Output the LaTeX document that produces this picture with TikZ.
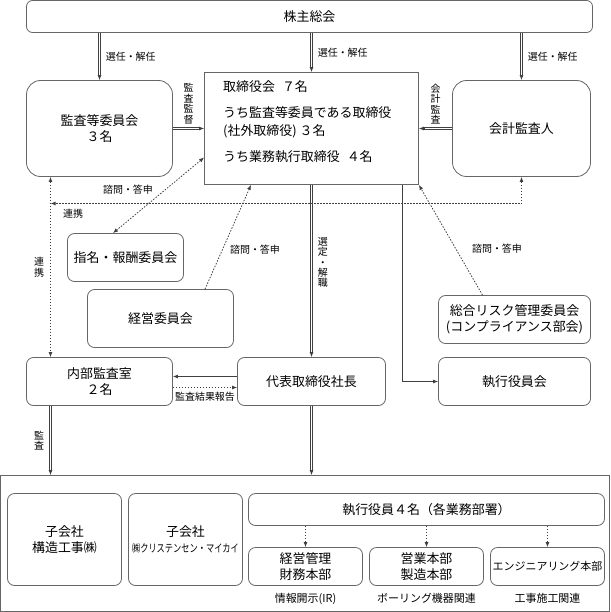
\documentclass[tikz,border=0pt]{standalone}
\usepackage{fontspec}
\setmainfont{Noto Sans CJK JP}
\usepackage{graphicx}
\usepackage{tikz}
\usetikzlibrary{arrows.meta,positioning}

\tikzset{
  >={Latex[length=5bp,width=4bp]},
  box/.style={draw=black!60, line width=0.8bp, rounded corners=7bp, align=center, inner sep=0pt, font=\fontsize{13}{16.5}\selectfont},
  bigbox/.style={box, rounded corners=14bp},
  lbl/.style={inner sep=1bp, font=\fontsize{10}{11}\selectfont},
  vlbl/.style={lbl, align=center, font=\fontsize{10}{10.5}\selectfont},
  sublbl/.style={inner sep=1bp, font=\fontsize{11}{12}\selectfont},
  con/.style={draw=black!75, line width=0.8bp, ->},
  dline/.style={draw=black!75, line width=0.7bp, double, double distance=1.3bp, shorten >=4bp},
  dotcon/.style={con, dash pattern=on 1.5bp off 1.5bp},
}

\begin{document}
\begin{tikzpicture}[x=1bp, y=-1bp]
\useasboundingbox (0,0) rectangle (611,612);

\node[box, rounded corners=6bp, minimum width=566bp, minimum height=32bp] (gm) at (309.5,16.5) {株主総会};
\node[bigbox, minimum width=146bp, minimum height=96bp] (acc) at (99.5,128.5) {監査等委員会\\３名};
\node[box, sharp corners, minimum width=214bp, minimum height=112bp] (board) at (311.5,128.5) {};
\node[align=left, anchor=west, inner sep=0pt, font=\fontsize{13}{18}\selectfont] (boardtxt) at (223,122)
  {取締役会\hspace{7bp}７名\\[8pt]うち監査等委員である取締役\\(社外取締役) ３名\\[8pt]うち業務執行取締役\hspace{7bp}４名};
\node[bigbox, minimum width=138bp, minimum height=96bp] (auditor) at (521.5,128.5) {会計監査人};
\node[box, minimum width=116bp, minimum height=48bp] (nom) at (125.5,257.5) {指名・報酬委員会};
\node[box, minimum width=146bp, minimum height=58bp] (mgmt) at (160.5,318.5) {経営委員会};
\node[box, minimum width=152bp, minimum height=48bp] (risk) at (514.5,319.5) {総合リスク管理委員会\\(コンプライアンス部会)};
\node[box, minimum width=146bp, minimum height=48bp] (audit) at (99.5,381.5) {内部監査室\\２名};
\node[box, minimum width=148bp, minimum height=48bp] (ceo) at (311.5,381.5) {代表取締役社長};
\node[box, minimum width=152bp, minimum height=48bp] (exec) at (514.5,381.5) {執行役員会};

% group companies and divisions
\node[draw=black!60, line width=0.8bp, inner sep=0pt, minimum width=609bp, minimum height=136bp] (group) at (305,543.5) {};
\node[box, minimum width=114bp, minimum height=92bp] (sub1) at (64.5,539.5) {子会社\\構造工事㈱};
\node[box, minimum width=114bp, minimum height=92bp] (sub2) at (185.5,539.5)
  {子会社\\{\fontsize{11}{16.5}\selectfont\scalebox{0.75}[1]{㈱クリステンセン・マイカイ}}};
\node[box, minimum width=356bp, minimum height=32bp] (officers) at (426.5,509.5) {執行役員４名（各業務部署）};
\node[box, minimum width=114bp, minimum height=38bp] (div1) at (305.5,566.5) {経営管理\\財務本部};
\node[box, minimum width=114bp, minimum height=38bp] (div2) at (426.5,566.5) {営業本部\\製造本部};
\node[box, minimum width=114bp, minimum height=38bp, font=\fontsize{11}{14}\selectfont] (div3) at (547.5,566.5) {エンジニアリング本部};
\node[sublbl, below=6bp of div1] (ir) {情報開示(IR)};
\node[sublbl, below=6bp of div2] (boring) {ボーリング機器関連};
\node[sublbl, below=6bp of div3] (works) {工事施工関連};

\coordinate (renkei) at (50.5,203.5);
\coordinate (ceoin) at (ceo.south |- group.north);
\coordinate (auditin) at (renkei |- group.north);

% double lines, tips drawn on their own
\draw[dline] (gm.south -| acc.north) -- (acc.north) node[midway, right=5bp, lbl] (sel1) {選任・解任};
\draw[con] ([yshift=5bp]acc.north) -- (acc.north);
\draw[dline] (gm.south -| board.north) -- (board.north) node[midway, right=5bp, lbl] (sel2) {選任・解任};
\draw[con] ([yshift=5bp]board.north) -- (board.north);
\draw[dline] (gm.south -| auditor.north) -- (auditor.north) node[midway, right=5bp, lbl] (sel3) {選任・解任};
\draw[con] ([yshift=5bp]auditor.north) -- (auditor.north);
\draw[dline] (acc.east) -- (board.west) node[midway, above=3bp, vlbl] (lsup) {監\\査\\監\\督};
\draw[con] ([xshift=-5bp]board.west) -- (board.west);
\draw[dline] (auditor.west) -- (board.east) node[midway, above=3bp, vlbl] (lca) {会\\計\\監\\査};
\draw[con] ([xshift=5bp]board.east) -- (board.east);
\draw[dline] (board.south) -- (ceo.north) node[pos=0.45, right=5bp, vlbl] (lsel) {選\\定\\・\\解\\職};
\draw[con] ([yshift=5bp]ceo.north) -- (ceo.north);
\draw[dline] (ceo.south) -- (ceoin);
\draw[con] ([yshift=5bp]ceoin) -- (ceoin);
\draw[dline] (audit.south -| renkei) -- (auditin) node[midway, left=5bp, vlbl] (laud) {監\\査};
\draw[con] ([yshift=5bp]auditin) -- (auditin);

% cooperation lines
\draw[dotcon, <->] (acc.south -| renkei) -- (audit.north -| renkei) node[midway, left=5bp, vlbl] (lren1) {連\\携};
\draw[dotcon, <->] (auditor.south) -- (auditor.south |- renkei) -- (renkei);
\node[lbl] (lren2) at (73,214) {連携};

\draw[dotcon, <->] ([yshift=-29bp]board.west) -- ([xshift=-12.5bp]nom.north);
\node[lbl] (lcon1) at (128,190) {諮問・答申};
\draw[dotcon] ([xshift=44.5bp]mgmt.north) -- ([xshift=-60.5bp]board.south);
\node[lbl] (lcon2) at (255,250) {諮問・答申};
\draw[dotcon] ([xshift=-32bp]risk.north) -- (board.south east);
\node[lbl] (lcon3) at (497,249) {諮問・答申};

\draw[con] ([xshift=91bp]board.south) |- (exec.west);
\draw[con] ([yshift=5bp]ceo.west) -- ([yshift=5bp]audit.east);
\draw[dotcon] ([yshift=-6bp]audit.east) -- ([yshift=-6bp]ceo.west) node[midway, below=3bp, lbl] (lrep) {監査結果報告};

\foreach \d in {div1,div2,div3}
  \draw[dotcon] (officers.south -| \d.north) -- (\d.north);
\end{tikzpicture}
\end{document}
